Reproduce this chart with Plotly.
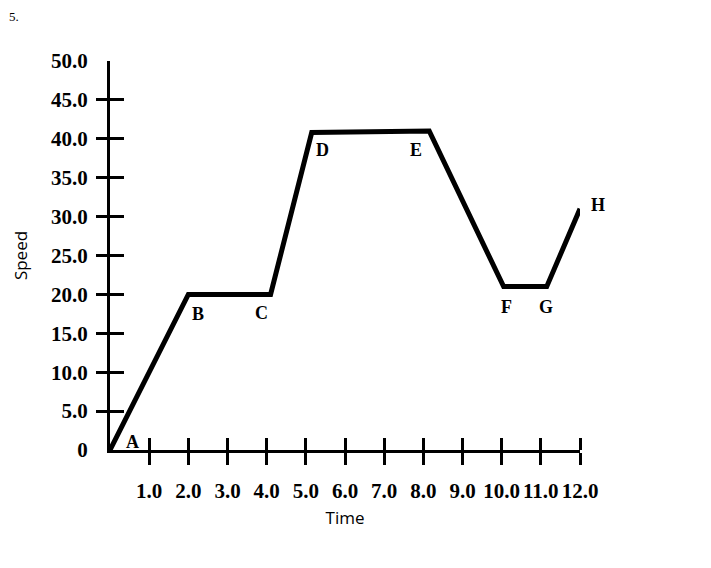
import plotly.graph_objects as go

# speed-time graph values
times = [0, 2, 4.1, 5.15, 8.15, 10.05, 11.15, 12.0]
speeds = [0, 20, 20, 40.8, 41, 21, 21, 31]
points = ["A", "B", "C", "D", "E", "F", "G", "H"]

x_ticks = [1, 2, 3, 4, 5, 6, 7, 8, 9, 10, 11, 12]
x_labels = ["1.0", "2.0", "3.0", "4.0", "5.0", "6.0", "7.0", "8.0", "9.0", "10.0", "11.0", "12.0"]
y_ticks = [0, 5, 10, 15, 20, 25, 30, 35, 40, 45, 50]
y_labels = ["0", "5.0", "10.0", "15.0", "20.0", "25.0", "30.0", "35.0", "40.0", "45.0", "50.0"]

# label offsets (pixels) for the point letters
shifts = [(22, 8), (10, -20), (-9, -19), (11, -17), (-13, -19), (3, -20), (-1, -20), (18, 4)]

serif = dict(family="Liberation Serif", size=21, color="black", weight="bold")

fig = go.Figure()
fig.add_trace(go.Scatter(
    x=times, y=speeds, mode="lines",
    line=dict(color="black", width=5),
    cliponaxis=False, hoverinfo="skip", showlegend=False,
))

for t, s, name, (dx, dy) in zip(times, speeds, points, shifts):
    fig.add_annotation(x=t, y=s, text=name, showarrow=False,
                       xshift=dx, yshift=dy,
                       font=dict(family="Liberation Serif", size=18, color="black", weight="bold"))

# question number in the corner of the scan
fig.add_annotation(x=-0.19, y=1.138, xref="paper", yref="paper", text="5.",
                   showarrow=False, xanchor="right", yanchor="top",
                   font=dict(family="Liberation Serif", size=13, color="black"))

fig.update_layout(
    width=711, height=568,
    margin=dict(l=102, r=139, t=53, b=126),
    plot_bgcolor="white", paper_bgcolor="white",
    xaxis=dict(
        range=[0, 12], showgrid=False, zeroline=False,
        showline=True, linecolor="black", linewidth=3,
        tickmode="array", tickvals=x_ticks, ticktext=x_labels,
        ticks="outside", ticklen=12, tickwidth=3, tickcolor="black",
        minor=dict(tickmode="array", tickvals=x_ticks, ticks="inside",
                   ticklen=12, tickwidth=3, tickcolor="black"),
        tickfont=serif, ticklabelstandoff=8,
        title=dict(text="Time", standoff=10,
                   font=dict(family="Open Sans", size=17, color="black")),
    ),
    yaxis=dict(
        range=[0, 50], showgrid=False, zeroline=False,
        showline=True, linecolor="black", linewidth=3,
        tickmode="array", tickvals=y_ticks, ticktext=y_labels,
        ticks="inside", ticklen=14, tickwidth=3, tickcolor="black",
        minor=dict(tickmode="array", tickvals=y_ticks[1:], ticks="outside",
                   ticklen=11, tickwidth=3, tickcolor="black"),
        tickfont=serif, ticklabelstandoff=15,
        title=dict(text="Speed", standoff=20,
                   font=dict(family="Open Sans", size=17, color="black")),
    ),
)

fig.write_html("out.html")
